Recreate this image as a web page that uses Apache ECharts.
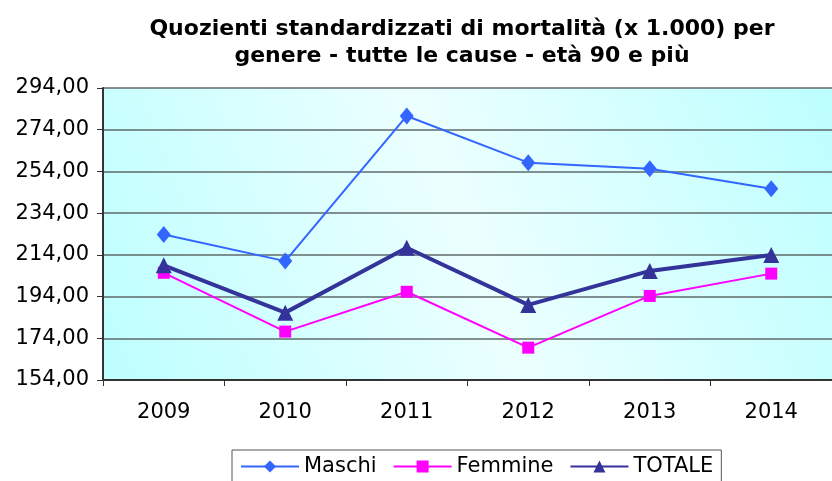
<!DOCTYPE html>
<html>
<head>
<meta charset="utf-8">
<script src="https://cdn.jsdelivr.net/npm/echarts@6/dist/echarts.min.js"></script>
<style>
  html, body { margin: 0; padding: 0; background: #fff; }
  #chart { width: 832px; height: 481px; }
</style>
</head>
<body>
<div id="chart"></div>
<script>
const years = ['2009', '2010', '2011', '2012', '2013', '2014']
const maschi = [223.8, 211.0, 280.6, 258.2, 255.3, 245.7]
const femmine = [205.4, 177.2, 196.3, 169.5, 194.3, 205.0]
const totale = [209.0, 186.3, 217.4, 190.0, 206.3, 213.9]
const yMin = 154
const yMax = 294
const yStep = 20

const fontFamily = '"DejaVu Sans", Verdana, sans-serif'

function lineSeries(name, data, color, width, symbol, size) {
  return {
    name: name,
    type: 'line',
    data: data,
    symbol: symbol,
    symbolSize: size,
    showAllSymbol: true,
    lineStyle: { color: color, width: width },
    itemStyle: { color: color, borderWidth: 0 },
    emphasis: { disabled: true }
  }
}

const chart = echarts.init(document.getElementById('chart'))
chart.setOption({
  animation: false,
  title: {
    text: 'Quozienti standardizzati di mortalità (x 1.000) per\ngenere - tutte le cause - età 90 e più',
    left: 457,
    textAlign: 'center',
    top: 11,
    textStyle: {
      fontFamily: fontFamily,
      fontWeight: 'bold',
      fontSize: 22,
      lineHeight: 27,
      color: '#000'
    }
  },
  legend: {
    top: 450,
    left: 232,
    padding: [6, 8, 8, 8],
    borderColor: '#555',
    borderWidth: 1,
    itemWidth: 58,
    itemHeight: 15,
    itemGap: 16,
    textStyle: { fontFamily: fontFamily, fontSize: 21, color: '#000' },
    data: ['Maschi', 'Femmine', 'TOTALE']
  },
  grid: {
    left: 103,
    top: 88,
    right: -10,
    bottom: 101,
    show: true,
    borderWidth: 0,
    backgroundColor: {
      type: 'linear', x: 0, y: 1, x2: 1, y2: 0,
      colorStops: [
        { offset: 0, color: '#bdffff' },
        { offset: 0.5, color: '#ecffff' },
        { offset: 1, color: '#bdffff' }
      ]
    }
  },
  xAxis: {
    type: 'category',
    data: years,
    boundaryGap: true,
    axisLine: { lineStyle: { color: '#333', width: 2 } },
    axisTick: { show: true, length: 6, lineStyle: { color: '#333' } },
    axisLabel: { margin: 22, fontFamily: fontFamily, fontSize: 21, color: '#000' }
  },
  yAxis: {
    type: 'value',
    min: yMin,
    max: yMax,
    interval: yStep,
    axisLine: { show: true, lineStyle: { color: '#333', width: 2 } },
    axisTick: { show: true, length: 6, lineStyle: { color: '#333' } },
    axisLabel: {
      margin: 14,
      fontFamily: fontFamily,
      fontSize: 21,
      color: '#000',
      formatter: (v) => v.toFixed(2).replace('.', ',')
    },
    splitLine: { show: true, lineStyle: { color: '#5f6a6a', width: 1.5 } }
  },
  series: [
    lineSeries('Maschi', maschi, '#3366ff', 2, 'diamond', [14, 17]),
    lineSeries('Femmine', femmine, '#ff00ff', 2, 'rect', 12),
    lineSeries('TOTALE', totale, '#333399', 4, 'triangle', 16)
  ]
})
</script>
</body>
</html>
